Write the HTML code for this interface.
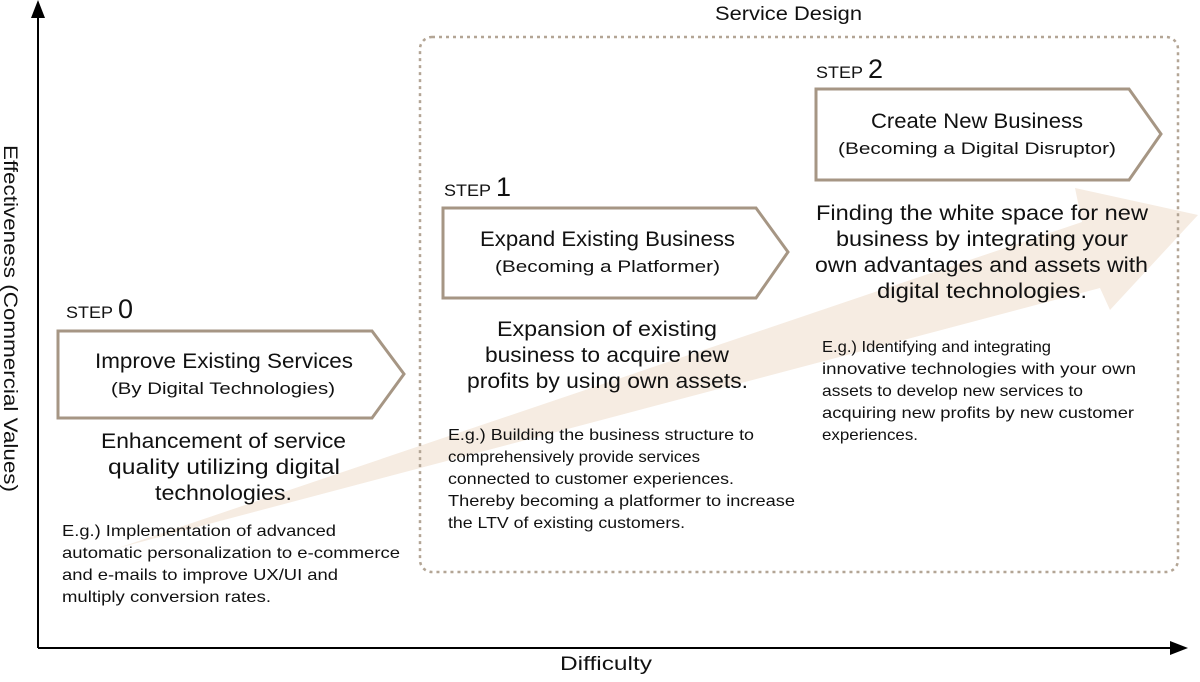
<!DOCTYPE html>
<html><head><meta charset="utf-8"><style>
body{margin:0;background:#fff;}
svg text{font-family:"Liberation Sans",sans-serif;fill:#111;}
</style></head><body>
<svg width="1200" height="677" viewBox="0 0 1200 677" xmlns="http://www.w3.org/2000/svg">
<polygon points="118,548 1082,222 1075,188 1198,215 1110,310 1100,288" fill="#f6ece2"/>
<rect x="420" y="37" width="758" height="535" rx="12" fill="none" stroke="#b3a595" stroke-width="2.5" stroke-dasharray="3,4"/>
<text x="715" y="20" font-size="19" textLength="147" lengthAdjust="spacingAndGlyphs">Service Design</text>
<line x1="38" y1="648" x2="38" y2="10" stroke="#000" stroke-width="2"/>
<polygon points="38,0 31,18 45,18" fill="#000"/>
<line x1="38" y1="648" x2="1175" y2="648" stroke="#000" stroke-width="2"/>
<polygon points="1188,648 1170,641 1170,655" fill="#000"/>
<text x="560" y="670" font-size="19" textLength="92" lengthAdjust="spacingAndGlyphs">Difficulty</text>
<text transform="translate(4,145) rotate(90)" font-size="19" textLength="347" lengthAdjust="spacingAndGlyphs">Effectiveness (Commercial Values)</text>

<g fill="#fff" stroke="#a69684" stroke-width="3">
<polygon points="58,331 372,331 404,374 372,418 58,418"/>
<polygon points="443,208 756,208 788,252 756,298 443,298"/>
<polygon points="816,89 1129,89 1161,134 1129,180 816,180"/>
</g>

<g font-size="17">
<text x="66" y="318" textLength="47" lengthAdjust="spacingAndGlyphs">STEP</text><text x="118" y="318" font-size="27">0</text>
<text x="444" y="196" textLength="47" lengthAdjust="spacingAndGlyphs">STEP</text><text x="496" y="196" font-size="27">1</text>
<text x="816" y="78" textLength="47" lengthAdjust="spacingAndGlyphs">STEP</text><text x="868" y="78" font-size="27">2</text>
</g>

<text x="95" y="368" font-size="21" textLength="258" lengthAdjust="spacingAndGlyphs">Improve Existing Services</text>
<text x="111" y="394" font-size="17" textLength="224" lengthAdjust="spacingAndGlyphs">(By Digital Technologies)</text>
<text x="101" y="448" font-size="21" textLength="245" lengthAdjust="spacingAndGlyphs">Enhancement of service</text>
<text x="108" y="474" font-size="21" textLength="232" lengthAdjust="spacingAndGlyphs">quality utilizing digital</text>
<text x="155" y="500" font-size="21" textLength="137" lengthAdjust="spacingAndGlyphs">technologies.</text>
<text x="62" y="536" font-size="16" textLength="274" lengthAdjust="spacingAndGlyphs">E.g.) Implementation of advanced</text>
<text x="62" y="558" font-size="16" textLength="338" lengthAdjust="spacingAndGlyphs">automatic personalization to e-commerce</text>
<text x="62" y="580" font-size="16" textLength="276" lengthAdjust="spacingAndGlyphs">and e-mails to improve UX/UI and</text>
<text x="62" y="602" font-size="16" textLength="209" lengthAdjust="spacingAndGlyphs">multiply conversion rates.</text>

<text x="480" y="246" font-size="21" textLength="255" lengthAdjust="spacingAndGlyphs">Expand Existing Business</text>
<text x="495" y="272" font-size="17" textLength="225" lengthAdjust="spacingAndGlyphs">(Becoming a Platformer)</text>
<text x="497" y="336" font-size="21" textLength="220" lengthAdjust="spacingAndGlyphs">Expansion of existing</text>
<text x="485" y="362" font-size="21" textLength="244" lengthAdjust="spacingAndGlyphs">business to acquire new</text>
<text x="467" y="388" font-size="21" textLength="281" lengthAdjust="spacingAndGlyphs">profits by using own assets.</text>
<text x="448" y="440" font-size="16" textLength="306" lengthAdjust="spacingAndGlyphs">E.g.) Building the business structure to</text>
<text x="448" y="462" font-size="16" textLength="252" lengthAdjust="spacingAndGlyphs">comprehensively provide services</text>
<text x="448" y="484" font-size="16" textLength="286" lengthAdjust="spacingAndGlyphs">connected to customer experiences.</text>
<text x="448" y="506" font-size="16" textLength="347" lengthAdjust="spacingAndGlyphs">Thereby becoming a platformer to increase</text>
<text x="448" y="528" font-size="16" textLength="237" lengthAdjust="spacingAndGlyphs">the LTV of existing customers.</text>

<text x="871" y="128" font-size="21" textLength="212" lengthAdjust="spacingAndGlyphs">Create New Business</text>
<text x="838" y="154" font-size="17" textLength="278" lengthAdjust="spacingAndGlyphs">(Becoming a Digital Disruptor)</text>
<text x="816" y="220" font-size="21" textLength="332" lengthAdjust="spacingAndGlyphs">Finding the white space for new</text>
<text x="836" y="246" font-size="21" textLength="292" lengthAdjust="spacingAndGlyphs">business by integrating your</text>
<text x="815" y="272" font-size="21" textLength="333" lengthAdjust="spacingAndGlyphs">own advantages and assets with</text>
<text x="877" y="298" font-size="21" textLength="210" lengthAdjust="spacingAndGlyphs">digital technologies.</text>
<text x="822" y="352" font-size="16" textLength="229" lengthAdjust="spacingAndGlyphs">E.g.) Identifying and integrating</text>
<text x="822" y="374" font-size="16" textLength="314" lengthAdjust="spacingAndGlyphs">innovative technologies with your own</text>
<text x="822" y="396" font-size="16" textLength="261" lengthAdjust="spacingAndGlyphs">assets to develop new services to</text>
<text x="822" y="418" font-size="16" textLength="312" lengthAdjust="spacingAndGlyphs">acquiring new profits by new customer</text>
<text x="822" y="440" font-size="16" textLength="96" lengthAdjust="spacingAndGlyphs">experiences.</text>
</svg>
</body></html>
